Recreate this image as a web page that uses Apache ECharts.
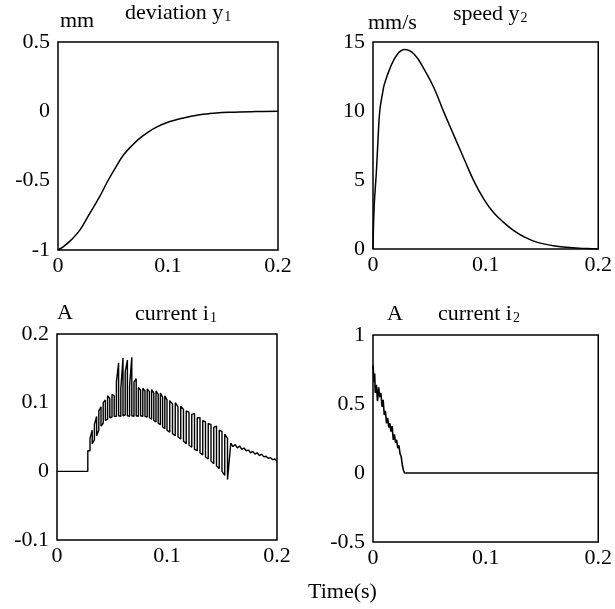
<!DOCTYPE html>
<html>
<head>
<meta charset="utf-8">
<script src="https://cdn.jsdelivr.net/npm/echarts@6/dist/echarts.min.js"></script>
<style>html,body{margin:0;padding:0;background:#fff;}#c{width:615px;height:609px;}</style>
</head>
<body>
<div id="c"></div>
<script>
// ---- tick labels / axis ranges ----
var timeTicks = [0, 0.1, 0.2];
var devTicks = [-1, -0.5, 0, 0.5];
var spdTicks = [0, 5, 10, 15];
var i1Ticks = [-0.1, 0, 0.1, 0.2];
var i2Ticks = [-0.5, 0, 0.5, 1];

// ---- deviation y1 (mm) ----
var devT = [0, 0.005, 0.012, 0.02, 0.029, 0.038, 0.045, 0.053, 0.06, 0.068, 0.075, 0.083, 0.09, 0.098, 0.106, 0.114, 0.122, 0.129, 0.137, 0.144, 0.155, 0.165, 0.18, 0.2];
var devV = [-1, -0.975, -0.927, -0.855, -0.734, -0.614, -0.506, -0.397, -0.31, -0.241, -0.19, -0.144, -0.112, -0.084, -0.064, -0.048, -0.034, -0.024, -0.017, -0.012, -0.007, -0.004, -0.002, 0];

// ---- speed y2 (mm/s) ----
var spdT = [0, 0.001, 0.003, 0.0045, 0.006, 0.0085, 0.0103, 0.0156, 0.0215, 0.028, 0.0368, 0.0456, 0.054, 0.063, 0.072, 0.081, 0.0897, 0.0985, 0.107, 0.116, 0.125, 0.134, 0.146, 0.16, 0.175, 0.19, 0.2];
var spdV = [0, 3.0, 5.6, 8.0, 10.0, 11.3, 12.0, 13.2, 14.1, 14.45, 14.1, 13.0, 11.7, 9.9, 8.2, 6.5, 4.9, 3.6, 2.65, 1.93, 1.33, 0.89, 0.48, 0.24, 0.1, 0.03, 0];

// ---- current i1 (A) ----
var i1StartT = [0, 0.028, 0.028];
var i1StartV = [0, 0, 0.03];
var i1StrokeT = [0.030, 0.032, 0.034, 0.036, 0.038, 0.040, 0.042, 0.044, 0.046, 0.048, 0.050,
  0.052, 0.054, 0.056, 0.058, 0.060, 0.062, 0.064, 0.066, 0.068, 0.070, 0.072,
  0.074, 0.076, 0.078, 0.080, 0.082, 0.084, 0.086, 0.088, 0.090, 0.092, 0.094, 0.096, 0.098, 0.100,
  0.1025, 0.105, 0.1075, 0.110, 0.1125, 0.115, 0.1175, 0.120, 0.1225, 0.125, 0.1275, 0.130, 0.1325, 0.135, 0.1375, 0.140, 0.1425, 0.145, 0.1475, 0.150, 0.1525, 0.155];
var i1Hi = [0.048, 0.060, 0.068, 0.080, 0.088, 0.094, 0.100, 0.104, 0.110, 0.106, 0.112,
  0.110, 0.130, 0.158, 0.120, 0.165, 0.145, 0.162, 0.125, 0.166, 0.130, 0.135,
  0.122, 0.118, 0.121, 0.117, 0.120, 0.116, 0.119, 0.114, 0.117, 0.112, 0.114, 0.108, 0.110, 0.104,
  0.103, 0.098, 0.100, 0.094, 0.095, 0.090, 0.088, 0.086, 0.083, 0.084, 0.078, 0.078, 0.074, 0.072, 0.070, 0.068, 0.064, 0.066, 0.060, 0.058, 0.054, 0.048];
var i1Lo = [0.030, 0.040, 0.046, 0.052, 0.060, 0.066, 0.070, 0.074, 0.076, 0.078, 0.079,
  0.080, 0.080, 0.081, 0.080, 0.081, 0.082, 0.081, 0.080, 0.081, 0.080, 0.081,
  0.080, 0.081, 0.080, 0.080, 0.079, 0.078, 0.076, 0.074, 0.072, 0.070, 0.068, 0.065, 0.062, 0.060,
  0.057, 0.055, 0.052, 0.050, 0.047, 0.044, 0.040, 0.038, 0.035, 0.032, 0.030, 0.027, 0.024, 0.021, 0.018, 0.015, 0.011, 0.008, 0.004, 0.000, -0.006, -0.012];
var i1TailT = [0.158, 0.160, 0.162, 0.164, 0.166, 0.168, 0.170, 0.172, 0.174, 0.176, 0.178, 0.180, 0.182, 0.184, 0.186, 0.188, 0.190, 0.192, 0.194, 0.196, 0.198, 0.2];
var i1TailV = [0.041, 0.036, 0.039, 0.034, 0.037, 0.032, 0.034, 0.030, 0.031, 0.027, 0.029, 0.025, 0.027, 0.023, 0.025, 0.021, 0.022, 0.019, 0.020, 0.017, 0.018, 0.015];

// ---- current i2 (A) ----
var i2T = [0, 0.001, 0.0015, 0.002, 0.003, 0.004, 0.005, 0.006, 0.007, 0.008, 0.009, 0.010, 0.011, 0.012, 0.013, 0.014, 0.015, 0.016, 0.017, 0.018, 0.019, 0.020, 0.021, 0.022, 0.023, 0.024, 0.025, 0.026, 0.027, 0.028, 0.2];
var i2V = [0.78, 0.66, 0.72, 0.58, 0.64, 0.52, 0.62, 0.55, 0.58, 0.48, 0.53, 0.42, 0.45, 0.36, 0.40, 0.33, 0.36, 0.30, 0.34, 0.24, 0.28, 0.22, 0.24, 0.18, 0.20, 0.14, 0.12, 0.06, 0.02, 0, 0];

function zip(t, v) { var out = []; for (var i = 0; i < t.length; i++) out.push([t[i], v[i]]); return out; }
var i1Data = zip(i1StartT, i1StartV);
for (var k = 0; k < i1StrokeT.length; k++) {
  if (k % 2 === 0) { i1Data.push([i1StrokeT[k], i1Lo[k]]); i1Data.push([i1StrokeT[k], i1Hi[k]]); }
  else { i1Data.push([i1StrokeT[k], i1Hi[k]]); i1Data.push([i1StrokeT[k], i1Lo[k]]); }
}
i1Data = i1Data.concat(zip(i1TailT, i1TailV));

var FONT = '"Liberation Serif", "Times New Roman", serif';
var FS = 22;
var grids = [
  { left: 58, top: 42, width: 220, height: 208 },
  { left: 373, top: 42, width: 227, height: 207 },
  { left: 57, top: 334, width: 220, height: 206 },
  { left: 373, top: 335, width: 227, height: 207 }
];
var yTicks = [devTicks, spdTicks, i1Ticks, i2Ticks];
var yIntervals = [0.5, 5, 0.1, 0.5];

function fmt(v) { return String(Math.round(v * 1000) / 1000); }

var xAxes = [], yAxes = [];
for (var g = 0; g < 4; g++) {
  grids[g].show = true; grids[g].borderColor = '#000'; grids[g].borderWidth = 1.5; grids[g].containLabel = false;
  xAxes.push({
    type: 'value', gridIndex: g, min: timeTicks[0], max: timeTicks[timeTicks.length - 1], interval: 0.1,
    axisLine: { show: false }, axisTick: { show: false }, splitLine: { show: false },
    axisLabel: { color: '#000', fontFamily: FONT, fontSize: FS, margin: 5, formatter: fmt }
  });
  var yt = yTicks[g];
  yAxes.push({
    type: 'value', gridIndex: g, min: yt[0], max: yt[yt.length - 1], interval: yIntervals[g],
    axisLine: { show: false }, axisTick: { show: false }, splitLine: { show: false },
    axisLabel: { color: '#000', fontFamily: FONT, fontSize: FS, margin: 8, formatter: fmt }
  });
}

function lineSeries(idx, data, smooth, width) {
  return {
    type: 'line', xAxisIndex: idx, yAxisIndex: idx, data: data, showSymbol: false, symbol: 'none',
    smooth: smooth, animation: false,
    lineStyle: { color: '#000', width: width }
  };
}

var rich = {
  a: { fontFamily: FONT, fontSize: FS, color: '#000' },
  s: { fontFamily: FONT, fontSize: 14, color: '#000', verticalAlign: 'bottom', padding: [7, 0, 0, 1] }
};
function ttl(text, left, top) {
  return { text: text, left: left, top: top, padding: 0, itemGap: 0,
    textStyle: { fontFamily: FONT, fontSize: FS, fontWeight: 'normal', color: '#000', rich: rich } };
}

var option = {
  backgroundColor: '#fff',
  animation: false,
  title: [
    ttl('{a|mm}', 60, 10),
    ttl('{a|deviation y}{s|1}', 125, 2),
    ttl('{a|mm/s}', 368, 12),
    ttl('{a|speed y}{s|2}', 453, 3),
    ttl('{a|A}', 57, 302),
    ttl('{a|current i}{s|1}', 135, 303),
    ttl('{a|A}', 387, 303),
    ttl('{a|current i}{s|2}', 438, 303),
    ttl('{a|Time(s)}', 308, 581)
  ],
  grid: grids,
  xAxis: xAxes,
  yAxis: yAxes,
  series: [
    lineSeries(0, zip(devT, devV), 0.4, 1.5),
    lineSeries(1, zip(spdT, spdV), 0.4, 1.5),
    lineSeries(2, i1Data, false, 1.4),
    lineSeries(3, zip(i2T, i2V), false, 1.6)
  ]
};
var chart = echarts.init(document.getElementById('c'), null, { renderer: 'canvas' });
chart.setOption(option);
</script>
</body>
</html>
